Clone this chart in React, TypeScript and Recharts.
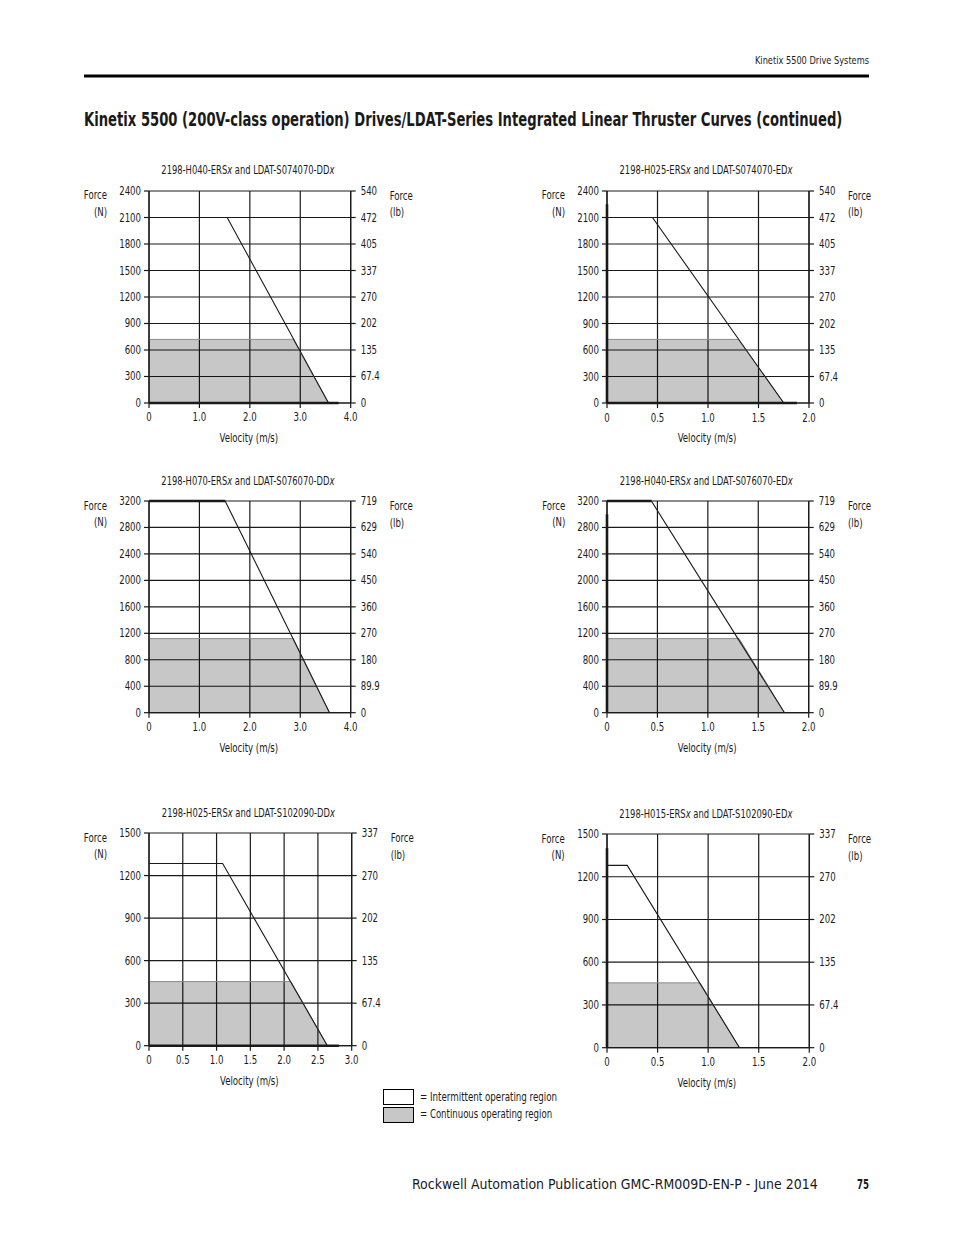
import { useLayoutEffect, useRef, useState } from "react"
import { Area, CartesianGrid, ComposedChart, Line, XAxis, YAxis } from "recharts"

type Pt = { v: number; f: number }

const FONT = "'DejaVu Sans Condensed', 'Liberation Sans Narrow', 'Noto Sans', sans-serif"
const INK = "#1a1a1a"
const SX = 0.83 // horizontal squeeze to mimic the condensed face of the original

// shared tick sets
const vel4Ticks = [0, 1, 2, 3, 4]
const vel4Labels = ["0", "1.0", "2.0", "3.0", "4.0"]
const vel2Ticks = [0, 0.5, 1, 1.5, 2]
const vel2Labels = ["0", "0.5", "1.0", "1.5", "2.0"]
const vel3Ticks = [0, 0.5, 1, 1.5, 2, 2.5, 3]
const vel3Labels = ["0", "0.5", "1.0", "1.5", "2.0", "2.5", "3.0"]

const f2400Ticks = [0, 300, 600, 900, 1200, 1500, 1800, 2100, 2400]
const lb540Labels = ["0", "67.4", "135", "202", "270", "337", "405", "472", "540"]
const f3200Ticks = [0, 400, 800, 1200, 1600, 2000, 2400, 2800, 3200]
const lb719Labels = ["0", "89.9", "180", "270", "360", "450", "540", "629", "719"]
const f1500Ticks = [0, 300, 600, 900, 1200, 1500]
const lb337Labels = ["0", "67.4", "135", "202", "270", "337"]

// 2198-H040-ERSx and LDAT-S074070-DDx
const aIntermittent: Pt[] = [{ v: 0, f: 2100 }, { v: 1.55, f: 2100 }, { v: 3.56, f: 0 }]
const aContinuous: Pt[] = [{ v: 0, f: 720 }, { v: 2.86, f: 720 }, { v: 3.56, f: 0 }]
const aBase: Pt[] = [{ v: 0, f: 0 }, { v: 3.76, f: 0 }]

// 2198-H025-ERSx and LDAT-S074070-EDx
const bIntermittent: Pt[] = [{ v: 0, f: 2100 }, { v: 0.45, f: 2100 }, { v: 1.75, f: 0 }]
const bContinuous: Pt[] = [{ v: 0, f: 720 }, { v: 1.3, f: 720 }, { v: 1.75, f: 0 }]
const bBase: Pt[] = [{ v: 0, f: 0 }, { v: 1.88, f: 0 }]
const bEdge: Pt[] = [{ v: 0, f: 0 }, { v: 0, f: 2250 }]

// 2198-H070-ERSx and LDAT-S076070-DDx
const cIntermittent: Pt[] = [{ v: 0, f: 3200 }, { v: 1.51, f: 3200 }, { v: 3.58, f: 0 }]
const cContinuous: Pt[] = [{ v: 0, f: 1120 }, { v: 2.86, f: 1120 }, { v: 3.58, f: 0 }]
const cTop: Pt[] = [{ v: 0, f: 3200 }, { v: 1.51, f: 3200 }]

// 2198-H040-ERSx and LDAT-S076070-EDx
const dIntermittent: Pt[] = [{ v: 0, f: 3200 }, { v: 0.44, f: 3200 }, { v: 1.76, f: 0 }]
const dContinuous: Pt[] = [{ v: 0, f: 1120 }, { v: 1.31, f: 1120 }, { v: 1.76, f: 0 }]
const dEdge: Pt[] = [{ v: 0, f: 0 }, { v: 0, f: 3000 }]
const dTop: Pt[] = [{ v: 0, f: 3200 }, { v: 0.44, f: 3200 }]

// 2198-H025-ERSx and LDAT-S102090-DDx
const eIntermittent: Pt[] = [{ v: 0, f: 1285 }, { v: 1.09, f: 1285 }, { v: 2.64, f: 0 }]
const eContinuous: Pt[] = [{ v: 0, f: 452 }, { v: 2.1, f: 452 }, { v: 2.64, f: 0 }]
const eBase: Pt[] = [{ v: 0, f: 0 }, { v: 2.81, f: 0 }]

// 2198-H015-ERSx and LDAT-S102090-EDx
const fIntermittent: Pt[] = [{ v: 0, f: 1280 }, { v: 0.2, f: 1280 }, { v: 1.31, f: 0 }]
const fContinuous: Pt[] = [{ v: 0, f: 455 }, { v: 0.92, f: 455 }, { v: 1.31, f: 0 }]
const fEdge: Pt[] = [{ v: 0, f: 0 }, { v: 0, f: 1400 }]

interface PanelProps {
  x: number
  y: number
  w: number
  h: number
  drive: string
  actuator: string
  velTicks: number[]
  velLabels: string[]
  forceTicks: number[]
  lbLabels: string[]
  intermittent: Pt[]
  continuous: Pt[]
  thick?: Pt[][]
}

const LW = 50
const RW = 50
const MT = 8
const XH = 34

const axisLine = { stroke: INK, strokeWidth: 1.2 }

// text squeezed horizontally so its drawn width matches `width`
function FitText({ x, y, width, anchor = "start", children, ...rest }: any) {
  const ref = useRef<SVGTextElement>(null)
  const [s, setS] = useState(SX)
  useLayoutEffect(() => {
    if (ref.current) {
      const n = ref.current.getComputedTextLength()
      if (n > 0) setS(width / n)
    }
  }, [width])
  return (
    <text ref={ref} transform={`translate(${x},${y}) scale(${s},1)`} textAnchor={anchor} {...rest}>
      {children}
    </text>
  )
}

function Cond({ x, y, anchor = "start", children }: any) {
  return (
    <text transform={`translate(${x},${y}) scale(${SX},1)`} textAnchor={anchor}>
      {children}
    </text>
  )
}

function makeTick(ticks: number[], labels?: string[]) {
  return (props: any) => {
    const { x, y, payload, textAnchor, verticalAnchor } = props
    const i = ticks.indexOf(payload.value)
    const label = labels ? labels[i] : String(payload.value)
    const dy = verticalAnchor === "start" ? 9.5 : 4
    return (
      <text
        transform={`translate(${x},${y + dy}) scale(${SX},1)`}
        textAnchor={textAnchor}
        fontSize={11.5}
        fill={INK}
        fontFamily={FONT}
      >
        {label}
      </text>
    )
  }
}

function Panel(p: PanelProps) {
  const vMax = p.velTicks[p.velTicks.length - 1]
  const fMax = p.forceTicks[p.forceTicks.length - 1]
  const cx = p.x + p.w / 2
  return (
    <>
      <div style={{ position: "absolute", left: p.x - LW, top: p.y - MT }}>
        <ComposedChart
          width={p.w + LW + RW}
          height={p.h + MT + XH}
          margin={{ top: MT, right: 0, bottom: 0, left: 0 }}
        >
          <CartesianGrid yAxisId="n" stroke={INK} strokeWidth={1.2} />
          <XAxis
            dataKey="v"
            type="number"
            domain={[0, vMax]}
            ticks={p.velTicks}
            interval={0}
            height={XH}
            tickSize={5}
            tickMargin={4}
            axisLine={axisLine}
            tickLine={axisLine}
            tick={makeTick(p.velTicks, p.velLabels)}
          />
          <YAxis
            yAxisId="n"
            type="number"
            domain={[0, fMax]}
            ticks={p.forceTicks}
            interval={0}
            width={LW}
            tickSize={5}
            tickMargin={3}
            axisLine={axisLine}
            tickLine={axisLine}
            tick={makeTick(p.forceTicks)}
          />
          <YAxis
            yAxisId="lb"
            orientation="right"
            type="number"
            domain={[0, fMax]}
            ticks={p.forceTicks}
            interval={0}
            width={RW}
            tickSize={5}
            tickMargin={5}
            axisLine={axisLine}
            tickLine={axisLine}
            tick={makeTick(p.forceTicks, p.lbLabels)}
          />
          <Area
            yAxisId="lb"
            data={p.continuous}
            dataKey="f"
            type="linear"
            stroke="#8c8c8c"
            strokeWidth={1}
            fill="#000"
            fillOpacity={0.22}
            isAnimationActive={false}
            dot={false}
            activeDot={false}
          />
          <Line
            yAxisId="n"
            data={p.intermittent}
            dataKey="f"
            type="linear"
            stroke={INK}
            strokeWidth={1.1}
            isAnimationActive={false}
            dot={false}
            activeDot={false}
          />
          {(p.thick ?? []).map((seg, i) => (
            <Line
              key={i}
              yAxisId="n"
              data={seg}
              dataKey="f"
              type="linear"
              stroke={INK}
              strokeWidth={2.6}
              isAnimationActive={false}
              dot={false}
              activeDot={false}
            />
          ))}
        </ComposedChart>
      </div>
      <svg
        width={954}
        height={1235}
        style={{ position: "absolute", left: 0, top: 0, pointerEvents: "none" }}
        fontFamily={FONT}
        fill={INK}
        fontSize={11.5}
      >
        <FitText x={cx - 2} y={p.y - 16.5} width={173} anchor="middle">
          {p.drive}
          <tspan fontStyle="italic">x</tspan> and {p.actuator}
          <tspan fontStyle="italic">x</tspan>
        </FitText>
        <Cond x={p.x - 42} y={p.y + 8.5} anchor="end">Force</Cond>
        <Cond x={p.x - 42} y={p.y + 25} anchor="end">(N)</Cond>
        <Cond x={p.x + p.w + 39} y={p.y + 9}>Force</Cond>
        <Cond x={p.x + p.w + 39} y={p.y + 25.5}>(lb)</Cond>
        <Cond x={cx - 1} y={p.y + p.h + 39.5} anchor="middle">Velocity (m/s)</Cond>
      </svg>
    </>
  )
}

export default function App() {
  return (
    <div
      style={{
        position: "absolute",
        left: 0,
        top: 0,
        width: 954,
        height: 1235,
        background: "#fff",
        overflow: "hidden",
        fontFamily: FONT,
      }}
    >
      <svg width={954} height={1235} style={{ position: "absolute", left: 0, top: 0 }} fontFamily={FONT} fill={INK}>
        <FitText x={869} y={64} width={114} anchor="end" fontSize={11}>Kinetix 5500 Drive Systems</FitText>
        <rect x={84} y={74.5} width={785} height={3} fill="#000" />
        <FitText x={84} y={126} width={758} fontSize={20} fontWeight="bold">
          Kinetix 5500 (200V-class operation) Drives/LDAT-Series Integrated Linear Thruster Curves (continued)
        </FitText>
        <rect x={383.5} y={1089.5} width={30} height={15} fill="#fff" stroke="#000" strokeWidth={1} />
        <rect x={383.5} y={1107.5} width={30} height={15} fill="#c7c7c7" stroke="#000" strokeWidth={1} />
        <FitText x={420} y={1101} width={137} fontSize={11.5}>= Intermittent operating region</FitText>
        <FitText x={420} y={1118} width={132} fontSize={11.5}>= Continuous operating region</FitText>
        <FitText x={412} y={1189} width={406} fontSize={14}>
          Rockwell Automation Publication GMC-RM009D-EN-P - June 2014
        </FitText>
        <FitText x={869} y={1189} width={12} fontSize={14} fontWeight="bold" anchor="end">75</FitText>
      </svg>
      <Panel
        x={149} y={190.7} w={201.7} h={212}
        drive="2198-H040-ERS" actuator="LDAT-S074070-DD"
        velTicks={vel4Ticks} velLabels={vel4Labels}
        forceTicks={f2400Ticks} lbLabels={lb540Labels}
        intermittent={aIntermittent} continuous={aContinuous} thick={[aBase]}
      />
      <Panel
        x={607} y={190.7} w={202} h={212}
        drive="2198-H025-ERS" actuator="LDAT-S074070-ED"
        velTicks={vel2Ticks} velLabels={vel2Labels}
        forceTicks={f2400Ticks} lbLabels={lb540Labels}
        intermittent={bIntermittent} continuous={bContinuous} thick={[bBase, bEdge]}
      />
      <Panel
        x={149} y={501} w={201.7} h={211.7}
        drive="2198-H070-ERS" actuator="LDAT-S076070-DD"
        velTicks={vel4Ticks} velLabels={vel4Labels}
        forceTicks={f3200Ticks} lbLabels={lb719Labels}
        intermittent={cIntermittent} continuous={cContinuous} thick={[cTop]}
      />
      <Panel
        x={607.3} y={501} w={201.7} h={211.7}
        drive="2198-H040-ERS" actuator="LDAT-S076070-ED"
        velTicks={vel2Ticks} velLabels={vel2Labels}
        forceTicks={f3200Ticks} lbLabels={lb719Labels}
        intermittent={dIntermittent} continuous={dContinuous} thick={[dEdge, dTop]}
      />
      <Panel
        x={149} y={833} w={202.7} h={212.7}
        drive="2198-H025-ERS" actuator="LDAT-S102090-DD"
        velTicks={vel3Ticks} velLabels={vel3Labels}
        forceTicks={f1500Ticks} lbLabels={lb337Labels}
        intermittent={eIntermittent} continuous={eContinuous} thick={[eBase]}
      />
      <Panel
        x={606.7} y={834} w={202.3} h={213.7}
        drive="2198-H015-ERS" actuator="LDAT-S102090-ED"
        velTicks={vel2Ticks} velLabels={vel2Labels}
        forceTicks={f1500Ticks} lbLabels={lb337Labels}
        intermittent={fIntermittent} continuous={fContinuous} thick={[fEdge]}
      />
    </div>
  )
}
